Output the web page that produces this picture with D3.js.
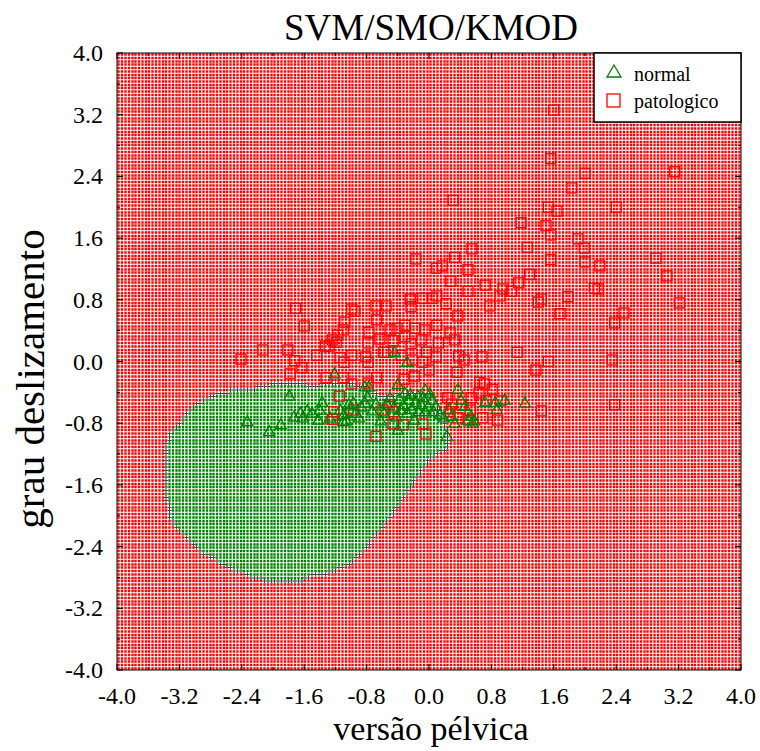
<!DOCTYPE html>
<html><head><meta charset="utf-8">
<script src="https://cdn.jsdelivr.net/npm/d3@7"></script>
<style>body{margin:0;background:#fff}</style>
</head><body><svg id="c" width="760" height="751"></svg>
<script>
// ---- data ----
const normal = [
[-2.33,-0.78],[-2.05,-0.91],[-1.90,-0.82],[-1.79,-0.45],[-1.73,-0.72],[-1.65,-0.67],[-1.62,-0.73],
[-1.56,-0.64],[-1.50,-0.67],[-1.42,-0.76],[-1.40,-0.63],[-1.27,-0.73],[-1.21,-0.16],[-1.14,-0.63],
[-1.09,-0.69],[-1.06,-0.77],[-1.03,-0.56],[-0.97,-0.54],[-0.94,-0.67],[-0.87,-0.59],[-0.82,-0.54],
[-0.79,-0.46],[-0.77,-0.33],[-0.73,-0.64],[-0.68,-0.55],[-0.62,-0.77],[-0.58,-0.67],[-0.54,-0.55],
[-0.50,-0.47],[-0.45,-0.60],[-0.42,-0.72],[-0.40,-0.89],[-0.38,-0.49],[-0.36,-0.63],[-0.33,-0.56],
[-0.31,-0.41],[-0.28,-0.67],[-0.26,-0.50],[-0.22,-0.62],[-0.19,-0.76],[-0.17,-0.53],[-0.14,-0.45],
[-0.13,-0.65],[-0.10,-0.56],[-0.08,-0.47],[-0.05,-0.65],[-0.01,-0.59],[0.01,-0.42],[0.04,-0.50],
[0.06,-0.65],[0.09,-0.58],[0.14,-0.69],[0.19,-0.73],[0.23,-0.97],[0.26,-0.62],[0.29,-0.71],
[0.33,-0.80],[0.37,-0.36],[0.41,-0.50],[0.46,-0.58],[0.50,-0.76],[0.54,-0.71],[0.58,-0.77],
[0.72,-0.53],[0.85,-0.53],[0.87,-0.62],[0.97,-0.50],[1.23,-0.54],[-0.44,0.12],[-0.28,-0.01],
[-0.40,-0.30],[-0.82,-0.33],[-1.37,-0.53],[-1.10,-0.78],[-0.90,-0.73],[-0.05,-0.37],[-0.24,-0.43],
[0.56,-0.80]
];
const patologico = [
[1.60,3.26],[1.56,2.63],[3.15,2.46],[2.00,2.44],[1.83,2.25],[0.31,2.09],[1.53,2.00],[1.64,1.95],
[2.40,2.00],[1.18,1.80],[1.50,1.76],[1.56,1.64],[1.91,1.59],[0.55,1.46],[1.26,1.48],[-0.17,1.33],
[1.56,1.32],[1.99,1.47],[0.33,1.35],[0.17,1.24],[0.10,1.21],[0.50,1.19],[1.29,1.13],[2.00,1.29],
[2.19,1.24],[2.91,1.34],[3.05,1.11],[2.12,0.95],[2.17,0.94],[0.28,1.04],[0.72,0.99],[0.50,0.91],
[0.95,0.94],[1.15,1.02],[1.06,0.91],[0.91,0.85],[0.10,0.85],[0.04,0.82],[-0.24,0.81],[-0.08,0.82],
[-0.23,0.71],[0.22,0.75],[0.37,0.59],[0.78,0.72],[1.40,0.77],[1.44,0.81],[1.78,0.84],[1.68,0.62],
[2.38,0.50],[2.50,0.63],[3.21,0.76],[-0.68,0.72],[-0.55,0.72],[-0.95,0.65],[-0.99,0.68],[-1.71,0.69],
[-1.60,0.46],[-0.50,0.41],[-0.41,0.43],[-0.31,0.47],[-0.18,0.43],[-0.05,0.41],[0.10,0.47],[-0.67,0.54],
[-1.08,0.51],[-0.77,0.38],[-1.17,0.34],[-1.10,0.41],[-1.24,0.28],[-1.33,0.20],[-1.28,0.20],[-1.19,0.25],
[-1.44,0.08],[-1.81,0.15],[-2.13,0.15],[-2.41,0.03],[-0.78,0.24],[-0.63,0.29],[-0.46,0.27],[-0.31,0.32],
[-0.23,0.23],[-0.10,0.28],[-0.03,0.12],[0.12,0.24],[0.27,0.37],[0.33,0.28],[0.09,0.06],[0.38,0.07],
[0.45,0.02],[0.68,0.06],[1.13,0.12],[1.53,0.00],[1.37,-0.11],[2.35,0.02],[-0.58,0.12],[-0.53,0.12],
[-0.81,0.06],[-0.78,-0.01],[-0.99,0.08],[-1.09,-0.01],[-1.14,0.05],[-1.32,-0.21],[-1.10,-0.21],
[-1.78,-0.16],[-1.72,0.01],[-1.63,-0.08],[-0.36,0.08],[-0.21,0.02],[-0.08,-0.01],[0.00,-0.11],
[-0.19,-0.19],[-0.32,-0.23],[0.36,-0.14],[0.65,-0.27],[0.71,-0.29],[0.64,-0.41],[0.73,-0.51],
[0.81,-0.36],[0.54,-0.47],[0.53,-0.63],[0.42,-0.56],[0.29,-0.55],[0.24,-0.47],[0.51,-0.76],
[0.69,-0.73],[0.37,-0.73],[0.27,-0.65],[0.88,-0.76],[0.92,-0.51],[1.44,-0.64],[2.38,-0.56],
[-0.78,-0.28],[-0.67,-0.21],[-0.99,-0.29],[-1.15,-0.45],[-1.22,-0.65],[-1.24,-0.75],[-0.68,-0.97],
[-0.51,-0.56],[-0.45,-0.65],[-0.33,-0.82],[-0.08,-0.81],[-0.04,-0.94],[-0.46,-0.81],[-0.59,-0.63],
[-0.97,-0.63]
];
// decision region (class "normal") outline
const regionOutline = [
[-3.41,-1.50],[-3.40,-1.20],[-3.385,-1.11],[-3.32,-0.91],[-3.256,-0.82],[-3.19,-0.76],[-3.10,-0.65],
[-3.00,-0.54],[-2.90,-0.50],[-2.78,-0.43],[-2.68,-0.40],[-2.55,-0.36],[-2.29,-0.34],[-2.17,-0.32],
[-2.04,-0.28],[-1.56,-0.266],[-1.53,-0.31],[-1.40,-0.31],[-1.36,-0.266],[-1.05,-0.24],[-1.01,-0.27],
[-0.79,-0.33],[-0.72,-0.40],[-0.59,-0.43],[-0.41,-0.41],[-0.24,-0.40],[-0.08,-0.37],[0.04,-0.40],
[0.10,-0.50],[0.14,-0.60],[0.18,-0.72],[0.23,-0.85],[0.27,-0.95],[0.27,-1.11],[0.01,-1.28],
[-0.24,-1.67],[-0.50,-2.05],[-0.76,-2.38],[-0.95,-2.57],[-1.05,-2.66],[-1.18,-2.73],[-1.36,-2.77],
[-1.56,-2.81],[-1.62,-2.86],[-2.10,-2.86],[-2.33,-2.79],[-2.46,-2.74],[-2.58,-2.70],[-2.68,-2.64],
[-2.81,-2.55],[-2.90,-2.51],[-3.03,-2.38],[-3.09,-2.32],[-3.22,-2.21],[-3.32,-2.05],[-3.385,-1.77]
];
const ticks = [-4.0,-3.2,-2.4,-1.6,-0.8,0.0,0.8,1.6,2.4,3.2,4.0];
const minorTicks = [-3.6,-2.8,-2.0,-1.2,-0.4,0.4,1.2,2.0,2.8,3.6];
const legendLabels = ["normal","patologico"];
const gridN = 184;

// ---- chart ----
const svg = d3.select("#c");
const L=117, R=741, T=53, B=670;
const x = d3.scaleLinear().domain([-4,4]).range([L,R]);
const y = d3.scaleLinear().domain([-4,4]).range([B,T]);
const RED="#ff0000", GREEN="#008000";
const font="Liberation Serif, Times New Roman, serif";

// grid of dots
const step = 8/gridN;
const inside = [];
for (let i=0;i<gridN;i++){ inside[i]=[]; for(let j=0;j<gridN;j++){
  const cx=-4+(i+0.5)*step, cy=-4+(j+0.5)*step;
  inside[i][j]=d3.polygonContains(regionOutline,[cx,cy]);
}}
const D=2.4;
let pr="", pg="", pb="";
for (let i=0;i<gridN;i++) for(let j=0;j<gridN;j++){
  const cx=-4+(i+0.5)*step, cy=-4+(j+0.5)*step;
  const px=Math.round(x(cx)*2)/2, py=Math.round(y(cy)*2)/2;
  const isIn=inside[i][j];
  let edge=false;
  if(isIn){
    for(const [di,dj] of [[1,0],[-1,0],[0,1],[0,-1]]){
      const a=i+di,b=j+dj;
      if(a>=0&&a<gridN&&b>=0&&b<gridN&&!inside[a][b]) edge=true;
    }
  }
  const r=`M${(px-D/2).toFixed(2)},${(py-D/2).toFixed(2)}h${D}v${D}h${-D}z`;
  if(edge){ pb+=`M${(px-2).toFixed(2)},${py.toFixed(2)}h4M${px.toFixed(2)},${(py-2).toFixed(2)}v4`; }
  else if(isIn) pg+=r;
  else pr+=r;
}
svg.append("path").attr("d",pr).attr("fill",RED);
svg.append("path").attr("d",pg).attr("fill",GREEN);
svg.append("path").attr("d",pb).attr("stroke","#444").attr("stroke-width",1.1).attr("fill","none");

// frame
svg.append("rect").attr("x",L).attr("y",T).attr("width",R-L).attr("height",B-T)
  .attr("fill","none").attr("stroke","#000").attr("stroke-width",1);

// ticks
const tk = svg.append("g").attr("stroke","#000").attr("stroke-width",1);
[[ticks,6],[minorTicks,3]].forEach(([arr,len])=>{
  arr.forEach(v=>{
    tk.append("line").attr("x1",x(v)).attr("x2",x(v)).attr("y1",B).attr("y2",B-len);
    tk.append("line").attr("x1",x(v)).attr("x2",x(v)).attr("y1",T).attr("y2",T+len);
    tk.append("line").attr("y1",y(v)).attr("y2",y(v)).attr("x1",L).attr("x2",L+len);
    tk.append("line").attr("y1",y(v)).attr("y2",y(v)).attr("x1",R).attr("x2",R-len);
  });
});
const fmt = v => (Math.abs(v)<1e-9?0:v).toFixed(1);
svg.append("g").selectAll("text").data(ticks).join("text")
  .attr("x",d=>x(d)).attr("y",704).attr("text-anchor","middle")
  .attr("font-family",font).attr("font-size",24).text(fmt);
svg.append("g").selectAll("text").data(ticks).join("text")
  .attr("x",103).attr("y",d=>y(d)+8).attr("text-anchor","end")
  .attr("font-family",font).attr("font-size",24).text(fmt);

// points
const sq = svg.append("g");
sq.selectAll("rect").data(patologico).join("rect")
  .attr("x",d=>x(d[0])-5).attr("y",d=>y(d[1])-5).attr("width",10).attr("height",10)
  .attr("fill","none").attr("stroke",RED).attr("stroke-width",1.3);
const tri = d => { const cx=x(d[0]), cy=y(d[1]); return `M${cx},${cy-6}L${cx+5.5},${cy+4}L${cx-5.5},${cy+4}Z`; };
svg.append("g").selectAll("path").data(normal).join("path")
  .attr("d",tri).attr("fill","none").attr("stroke",GREEN).attr("stroke-width",1.3);

// legend
svg.append("rect").attr("x",594).attr("y",T).attr("width",R-594).attr("height",69)
  .attr("fill","#fff").attr("stroke","#000").attr("stroke-width",1.5);
svg.append("path").attr("d","M614,65L621,77L607,77Z").attr("fill","none").attr("stroke",GREEN).attr("stroke-width",1.3);
svg.append("rect").attr("x",607).attr("y",94).attr("width",13).attr("height",13)
  .attr("fill","none").attr("stroke",RED).attr("stroke-width",1.3);
svg.append("g").selectAll("text").data(legendLabels).join("text")
  .attr("x",634).attr("y",(d,i)=>81+i*27).attr("font-family",font).attr("font-size",20).text(d=>d);

// titles
svg.append("text").attr("x",431).attr("y",40).attr("text-anchor","middle")
  .attr("font-family",font).attr("font-size",37).text("SVM/SMO/KMOD");
svg.append("text").attr("x",431).attr("y",740).attr("text-anchor","middle")
  .attr("font-family",font).attr("font-size",34).text("versão pélvica");
svg.append("text").attr("transform","translate(44,379) rotate(-90)").attr("text-anchor","middle")
  .attr("font-family",font).attr("font-size",41).text("grau deslizamento");
</script></body></html>
